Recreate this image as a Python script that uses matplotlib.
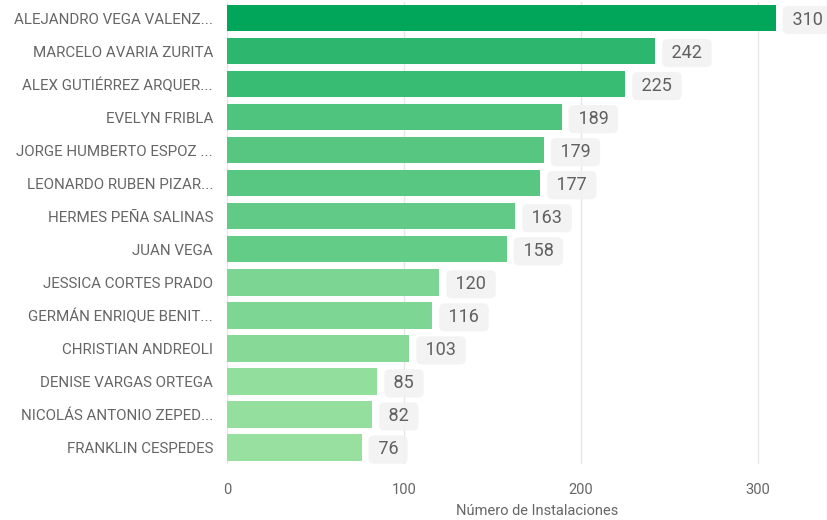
import numpy as np
import matplotlib.pyplot as plt

names = [
    "ALEJANDRO VEGA VALENZ...",
    "MARCELO AVARIA ZURITA",
    "ALEX GUTIÉRREZ ARQUER...",
    "EVELYN FRIBLA",
    "JORGE HUMBERTO ESPOZ ...",
    "LEONARDO RUBEN PIZAR...",
    "HERMES PEÑA SALINAS",
    "JUAN VEGA",
    "JESSICA CORTES PRADO",
    "GERMÁN ENRIQUE BENIT...",
    "CHRISTIAN ANDREOLI",
    "DENISE VARGAS ORTEGA",
    "NICOLÁS ANTONIO ZEPED...",
    "FRANKLIN CESPEDES",
]
installs = [310, 242, 225, 189, 179, 177, 163, 158, 120, 116, 103, 85, 82, 76]
x_ticks = [0, 100, 200, 300]

plt.rcParams["font.family"] = ["Roboto", "DejaVu Sans"]

# colour scale: dark green for the max, light green for the min
dark = np.array([1, 166, 90]) / 255
light = np.array([152, 224, 160]) / 255
vals = np.array(installs, dtype=float)
t = (vals.max() - vals) / (vals.max() - vals.min())
colors = [tuple(dark + (light - dark) * ti) for ti in t]

fig = plt.figure(figsize=(8.27, 5.2), dpi=100)
ax = fig.add_axes([227 / 827, 56 / 520, 600 / 827, 462.5 / 520])

y = np.arange(len(names))
ax.barh(y, installs, height=0.8, color=colors, zorder=2)

for yi, v in zip(y, installs):
    ax.annotate(
        f" {v} ", xy=(v, yi), xytext=(12, -2), textcoords="offset pixels",
        ha="left", va="center", fontsize=13, color="#606060",
        bbox=dict(boxstyle="round,pad=0.28,rounding_size=0.3",
                  fc="#f2f2f2", ec="none", alpha=0.9),
        zorder=1,
    )

ax.set_xlim(0, 339)
ax.set_ylim(len(names) - 0.5, -0.5)
ax.set_yticks(y)
ax.set_yticklabels(names, fontsize=10.9, color="#666666")
ax.set_xticks(x_ticks)
ax.set_xticklabels([str(v) for v in x_ticks], fontsize=10.5, color="#666666")
ax.tick_params(axis="both", length=0)
ax.tick_params(axis="y", pad=10)
ax.tick_params(axis="x", pad=14)
ax.grid(axis="x", color="#e6e6e6", linewidth=1, zorder=0)
ax.set_axisbelow(True)
for s in ax.spines.values():
    s.set_visible(False)
ax.set_xlabel("Número de Instalaciones", fontsize=10.5, color="#666666")
ax.xaxis.set_label_coords(0.517, -0.086)

fig.savefig("out.png", dpi=100)
